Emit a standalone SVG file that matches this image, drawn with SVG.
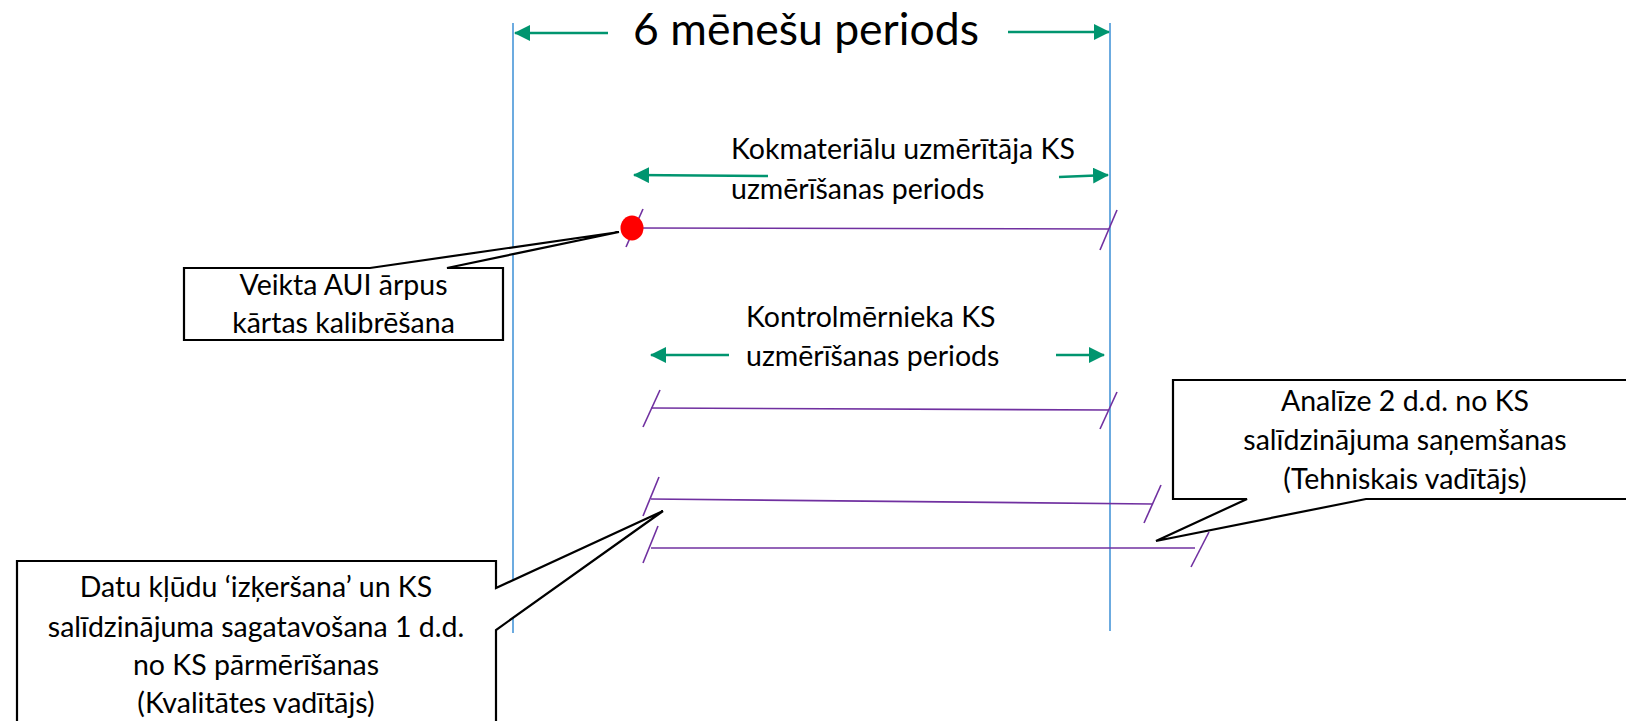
<svg xmlns="http://www.w3.org/2000/svg" width="1626" height="721" viewBox="0 0 1626 721">
<style>
.t{font-family:Lato,"Liberation Sans",Arial,sans-serif;fill:#000}
.b{font-size:28.5px}
.title{font-size:44.5px}
.blue{stroke:#3B8FD6;stroke-width:1.5;fill:none}
.pur{stroke:#7030A0;stroke-width:1.6;fill:none}
.grn{stroke:#00956F;stroke-width:2.6;fill:none;marker-end:url(#ah)}
.call{fill:#fff;stroke:#000;stroke-width:2.2;stroke-linejoin:miter}
</style>
<defs>
<marker id="ah" markerUnits="userSpaceOnUse" viewBox="0 0 16 16" refX="15" refY="8" markerWidth="16" markerHeight="16" orient="auto">
<path d="M0,0 L16,8 L0,16 Z" fill="#00956F"/>
</marker>
</defs>
<rect width="1626" height="721" fill="#fff"/>
<g id="connectors">
<line class="blue" x1="513" y1="23" x2="513" y2="633"/>
<line class="blue" x1="1110" y1="23" x2="1110" y2="631"/>
<line class="grn" x1="608" y1="33" x2="515" y2="33"/>
<line class="grn" x1="1008" y1="32" x2="1109" y2="32"/>
<line class="grn" x1="768" y1="176" x2="634" y2="175"/>
<line class="grn" x1="1059" y1="177" x2="1108" y2="175"/>
<line class="grn" x1="729" y1="355" x2="651" y2="355"/>
<line class="grn" x1="1056" y1="355" x2="1104" y2="355"/>
<line class="pur" x1="633" y1="228" x2="1109" y2="229"/>
<line class="pur" x1="643" y1="209" x2="626" y2="247"/>
<line class="pur" x1="1117" y1="210" x2="1100" y2="250"/>
<line class="pur" x1="651" y1="408" x2="1109" y2="410"/>
<line class="pur" x1="660" y1="390" x2="643" y2="427"/>
<line class="pur" x1="1117" y1="392" x2="1100" y2="429"/>
<line class="pur" x1="651" y1="499" x2="1152" y2="504"/>
<line class="pur" x1="659" y1="477" x2="643" y2="516"/>
<line class="pur" x1="1161" y1="485" x2="1144" y2="523"/>
<line class="pur" x1="651" y1="548" x2="1195" y2="548"/>
<line class="pur" x1="658" y1="526" x2="643" y2="563"/>
<line class="pur" x1="1209" y1="532" x2="1191" y2="567"/>
</g>
<g id="title">
<text class="t title" x="806" y="45" text-anchor="middle">6 mēnešu periods</text>
</g>
<g id="kokmaterialu">
<text class="t b" x="731" y="159">Kokmateriālu uzmērītāja KS</text>
<text class="t b" x="731" y="199">uzmērīšanas periods</text>
</g>
<g id="kontrolmernieka">
<text class="t b" x="746" y="327">Kontrolmērnieka KS</text>
<text class="t b" x="746" y="366">uzmērīšanas periods</text>
</g>
<g id="red-dot">
<ellipse cx="632" cy="228" rx="11.5" ry="12.5" fill="#FF0000"/>
</g>
<g id="callout-aui">
<path class="call" d="M184,268 L370,268 L619,232 L447,268 L503,268 L503,340 L184,340 Z"/>
<text class="t b" x="343.5" y="295" text-anchor="middle">Veikta AUI ārpus</text>
<text class="t b" x="343.5" y="333" text-anchor="middle">kārtas kalibrēšana</text>
</g>
<g id="callout-analize">
<path class="call" d="M1173,380 L1640,380 L1640,499 L1366,499 L1156,541 L1247,499 L1173,499 Z"/>
<text class="t b" x="1405" y="411" text-anchor="middle">Analīze 2 d.d. no KS</text>
<text class="t b" x="1405" y="450" text-anchor="middle">salīdzinājuma saņemšanas</text>
<text class="t b" x="1405" y="489" text-anchor="middle">(Tehniskais vadītājs)</text>
</g>
<g id="callout-datu">
<path class="call" d="M17,561 L496,561 L496,588 L663,511 L496,630 L496,740 L17,740 Z"/>
<text class="t b" x="256" y="597" text-anchor="middle">Datu kļūdu ‘izķeršana’ un KS</text>
<text class="t b" x="256" y="637" text-anchor="middle">salīdzinājuma sagatavošana 1 d.d.</text>
<text class="t b" x="256" y="675" text-anchor="middle">no KS pārmērīšanas</text>
<text class="t b" x="256" y="713" text-anchor="middle">(Kvalitātes vadītājs)</text>
</g>
</svg>
